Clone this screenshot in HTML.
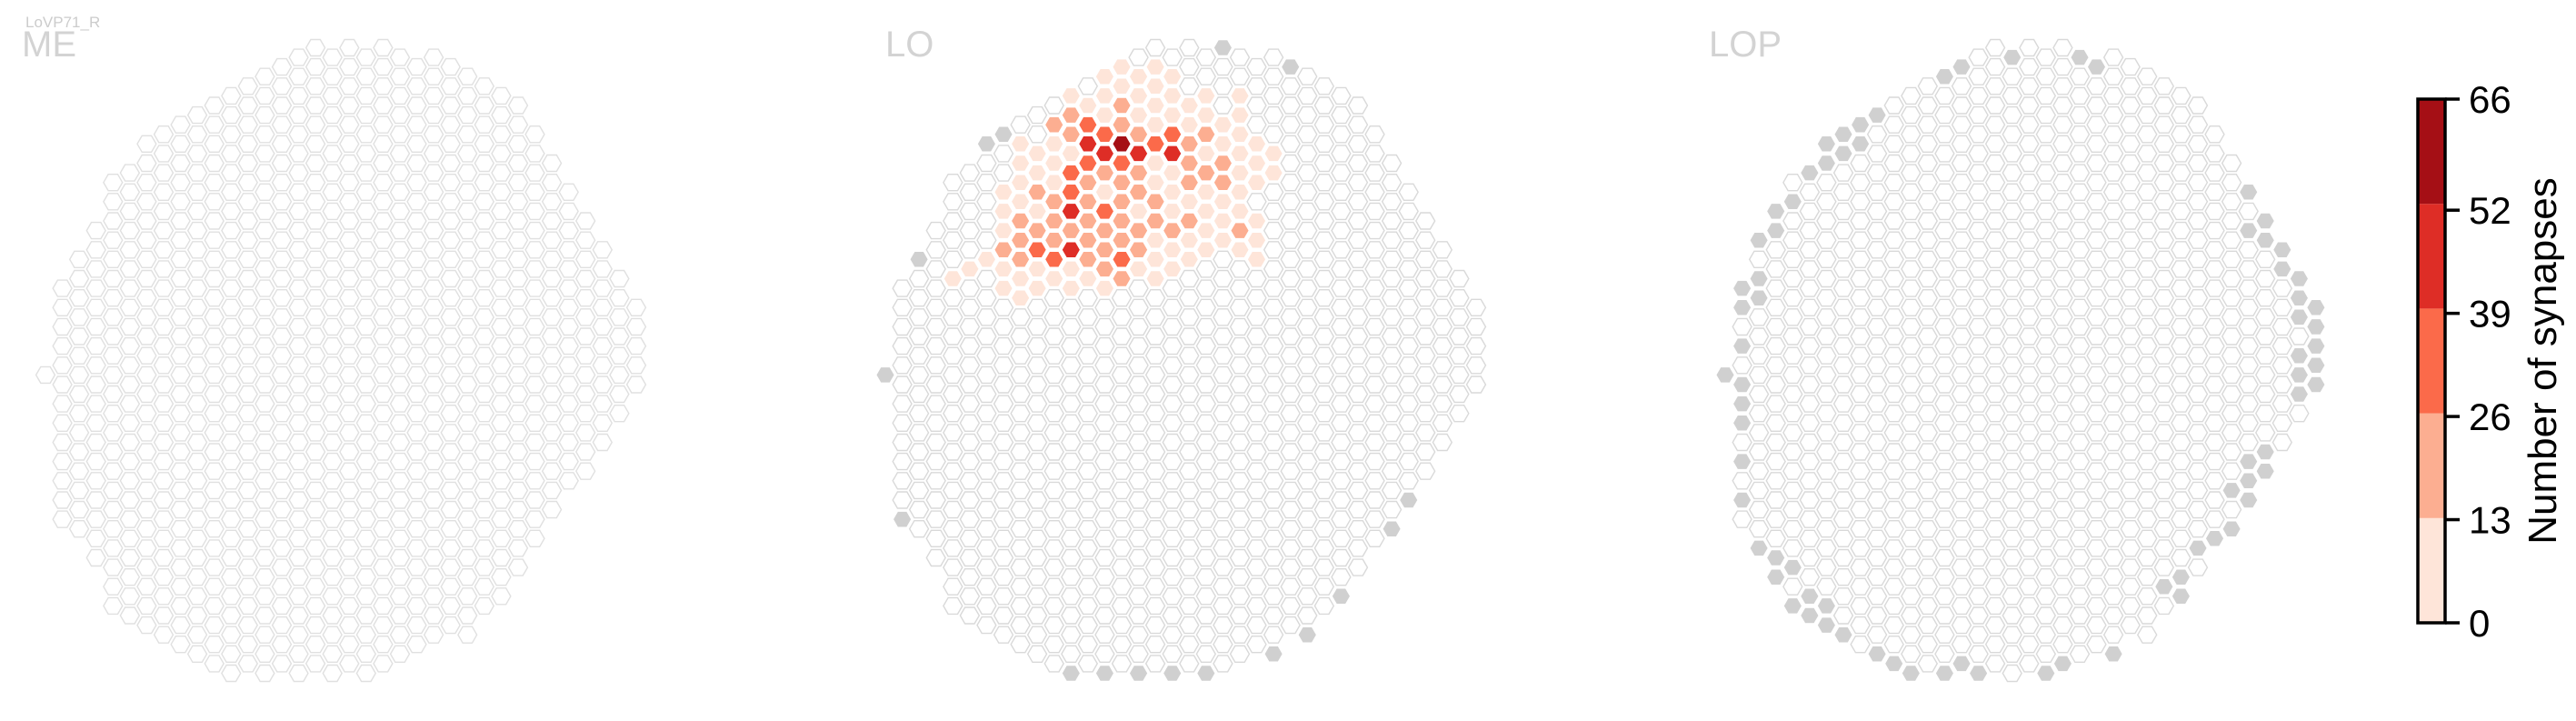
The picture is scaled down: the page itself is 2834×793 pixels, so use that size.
<!DOCTYPE html>
<html><head><meta charset="utf-8">
<style>
html,body{margin:0;padding:0;background:#fff;}
svg{display:block;font-family:"Liberation Sans",sans-serif;}
</style></head>
<body>
<svg id="chart" width="2834" height="793" viewBox="0 0 2834 793" xmlns="http://www.w3.org/2000/svg">
  <text x="28" y="30" font-size="17" fill="#cccccc">LoVP71_R</text>
  <text x="24" y="62" font-size="40" fill="#d3d3d3">ME</text>
  <text x="974" y="62" font-size="40" fill="#d3d3d3">LO</text>
  <text x="1880" y="62" font-size="40" fill="#d3d3d3">LOP</text>
  <g id="panels"></g>
  <g id="colorbar"></g>
</svg>
<script>
// ---- data ----
const panelNames = ["ME","LO","LOP"];
const cbTicks = [0,13,26,39,52,66];
const cbColors = ["#fee5d9","#fcae91","#fb6a4a","#de2d26","#a50f15"];
// LO synapse counts: per column, starting row, values
const loColumns = [4,5,6,7,8,9,10,11,12,13,14,15,16,17,18,19,20,21,22,23];
const loStartRows = [13,12,12,8,6,6,5,3,4,2,2,2,2,2,4,3,5,3,6,6];
const loValues = [
 [6],[6],[6],
 [6,6,6,20,6,6],
 [6,6,6,6,20,20,20,6,6],
 [6,6,20,6,20,33,6,6],
 [20,6,6,6,20,20,20,33,6],
 [6,20,20,6,33,33,46,20,46,6,6],
 [6,33,46,33,20,20,20,20,20,6],
 [6,6,6,33,46,20,6,33,20,20,20,6],
 [6,6,20,20,60,33,20,20,20,20,33,20],
 [6,6,6,20,46,20,20,6,20,20,6],
 [6,6,6,6,33,6,6,20,20,6,6,6],
 [6,6,6,33,46,6,6,6,20,6,6],
 [6,6,20,20,20,6,20,6,6],
 [6,6,20,6,20,6,6,6,6],
 [6,6,20,20,6,6,6],
 [6,6,6,6,6,6,6,20,6],
 [6,6,6,0,6,6,6],
 [6,6]
];
// cells outside the neuropil data (gray)
const loGray = [[20,1],[24,2],[7,5],[6,6],[2,12],[0,18],[1,25],[11,33],[13,33],[15,33],[17,33],[19,33],[23,32],[25,31],[27,29],[30,26],[31,24]];
const lopGray = [[14,2],[13,2],[17,1],[21,1],[22,2],[9,4],[8,5],[7,5],[6,6],[8,6],[7,6],[6,7],[5,7],[4,9],[3,9],[3,10],[2,11],[2,13],[1,13],[2,14],[1,14],[1,16],[0,18],[1,18],[1,19],[1,20],[1,22],[1,24],[2,27],[3,27],[4,28],[3,28],[5,29],[4,30],[6,30],[5,30],[6,31],[7,31],[9,32],[10,33],[11,33],[13,33],[14,33],[15,33],[19,33],[20,33],[23,32],[26,29],[27,28],[27,29],[28,27],[29,26],[30,26],[30,24],[31,23],[31,24],[31,22],[32,22],[32,23],[31,8],[31,10],[32,10],[32,11],[33,11],[33,12],[34,13],[34,14],[34,15],[35,14],[35,15],[35,16],[34,17],[35,17],[34,18],[35,18],[34,19]];

// ---- geometry ----
const panelX0 = [50, 974, 1898];
const colStep = 18.57, rowStep = 21.17, yEven = 31.3, yOdd = 41.9, R = 10.4;
const outline = [[422,44],[439,50],[497,65],[533,86],[570,108],[588,140],[606,172],[627,202],[645,235],[664,268],[682,298],[705,331],[705,430],[682,455],[645,518],[606,582],[570,625],[552,658],[515,698],[476,718],[403,749],[255,749],[200,711],[161,688],[124,668],[106,635],[88,603],[64,576],[64,420],[42,413],[64,405],[68,317],[88,263],[106,233],[124,200],[161,150],[218,118],[255,98],[291,75],[329,55],[400,44]];
function inside(x,y){let c=false;for(let i=0,j=outline.length-1;i<outline.length;j=i++){const [xi,yi]=outline[i],[xj,yj]=outline[j];if(((yi>y)!=(yj>y))&&(x<(xj-xi)*(y-yi)/(yj-yi)+xi))c=!c;}return c;}
function color(v){if(v<=0)return null;const i=Math.min(4,Math.floor(v/13.2));return cbColors[i];}
function hexPts(cx,cy){let p=[];for(let a=0;a<6;a++){const t=a*Math.PI/3;p.push((cx+R*Math.cos(t)).toFixed(1)+","+(cy+R*Math.sin(t)).toFixed(1));}return p.join(" ");}
const NS="http://www.w3.org/2000/svg";
const loMap={};
loColumns.forEach((c,i)=>{loValues[i].forEach((v,j)=>{loMap[c+"_"+(loStartRows[i]+j)]=v;});});
const graySets=[{},{},{}];
loGray.forEach(([c,k])=>graySets[1][c+"_"+k]=1);
lopGray.forEach(([c,k])=>graySets[2][c+"_"+k]=1);
const root=document.getElementById("panels");
panelNames.forEach((nm,p)=>{
  const g=document.createElementNS(NS,"g");
  
  
  root.appendChild(g);
  for(let c=0;c<=36;c++){
    for(let k=0;k<=36;k++){
      const mx=50+c*colStep, y=(c%2?yOdd:yEven)+k*rowStep;
      const key=c+"_"+k;
      if(!inside(mx,y) && !graySets[p][key]) continue;
      const x=panelX0[p]+c*colStep;
      const poly=document.createElementNS(NS,"polygon");
      poly.setAttribute("points",hexPts(x,y));
      let fill="#ffffff",stroke="#d9d9d9",sw=1.4;
      if(graySets[p][key]){fill="#d0d0d0";stroke="#ffffff";sw=1.5;}
      else if(p===1 && loMap[key]!==undefined && color(loMap[key])){fill=color(loMap[key]);stroke="#ffffff";sw=1.5;}
      if(p===0){stroke="#e0e0e0";}
      poly.setAttribute("fill",fill);poly.setAttribute("stroke",stroke);poly.setAttribute("stroke-width",sw);
      
      
      g.appendChild(poly);
    }
  }
});
// ---- colorbar ----
const cb=document.getElementById("colorbar");
const cbX=2660, cbW=30, cbTop=109, cbBot=685;
function cbY(v){return cbBot-(v-cbTicks[0])/(cbTicks[cbTicks.length-1]-cbTicks[0])*(cbBot-cbTop);}
for(let i=0;i<cbColors.length;i++){
  const r=document.createElementNS(NS,"rect");
  const y1=cbBot-(i+1)*(cbBot-cbTop)/cbColors.length, y0=cbBot-i*(cbBot-cbTop)/cbColors.length;
  r.setAttribute("x",cbX);r.setAttribute("y",y1);r.setAttribute("width",cbW);r.setAttribute("height",y0-y1);r.setAttribute("fill",cbColors[i]);
  
  
  cb.appendChild(r);
}
const fr=document.createElementNS(NS,"rect");
fr.setAttribute("x",cbX);fr.setAttribute("y",cbTop);fr.setAttribute("width",cbW);fr.setAttribute("height",cbBot-cbTop);
fr.setAttribute("fill","none");fr.setAttribute("stroke","#000");fr.setAttribute("stroke-width","3.5");


cb.appendChild(fr);
cbTicks.forEach((t,i)=>{
  const y=cbY(t);
  const ln=document.createElementNS(NS,"line");
  ln.setAttribute("x1",cbX+cbW);ln.setAttribute("x2",cbX+cbW+16);ln.setAttribute("y1",y);ln.setAttribute("y2",y);
  ln.setAttribute("stroke","#000");ln.setAttribute("stroke-width","3.5");
  
  
  cb.appendChild(ln);
  const tx=document.createElementNS(NS,"text");
  tx.setAttribute("x",cbX+cbW+26);tx.setAttribute("y",y+15);tx.setAttribute("font-size","42");tx.setAttribute("fill","#000");
  tx.textContent=String(t);
  
  
  cb.appendChild(tx);
});
const lab=document.createElementNS(NS,"text");
lab.setAttribute("transform","translate(2812,397) rotate(-90)");
lab.setAttribute("text-anchor","middle");lab.setAttribute("font-size","44");lab.setAttribute("fill","#000");
lab.textContent="Number of synapses";


cb.appendChild(lab);
</script>
</body></html>
